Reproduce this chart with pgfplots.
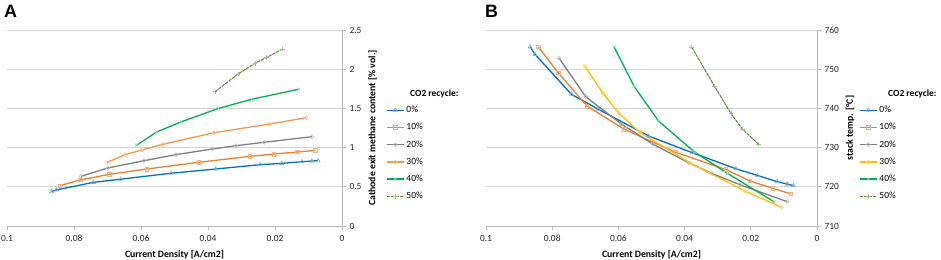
\documentclass[border=0pt]{standalone}
\usepackage{fontspec}
\setmainfont{Carlito}
\newfontfamily\arialfont{Liberation Sans}
\usepackage{pgfplots}
\pgfplotsset{compat=1.18}
\definecolor{cblue}{HTML}{0070C0}
\definecolor{corange}{HTML}{ED7D31}
\definecolor{cgray}{HTML}{7F7F7F}
\definecolor{clorange}{HTML}{F79646}
\definecolor{cyellow}{HTML}{FFC000}
\definecolor{cgreen}{HTML}{00B050}
\definecolor{cdgreen}{HTML}{4F8A2E}
\pgfplotsset{
  panel/.style={
    scale only axis, height=196bp,
    x dir=reverse, xmin=0, xmax=0.1,
    xtick={0,0.02,0.04,0.06,0.08,0.1},
    axis x line*=bottom, axis y line*=right,
    ymajorgrids, grid style={draw=black!16, line width=0.8pt},
    axis line style={draw=black!28, line width=0.8pt},
    tick style={draw=black!28, line width=0.8pt},
    tick align=outside, major tick length=4bp,
    ticklabel style={font=\fontsize{9.5}{11}\selectfont, text=black!85},
    xticklabel style={yshift=-2bp},
    /pgf/number format/assume math mode=true,
    xticklabel style={/pgf/number format/fixed},
    yticklabel style={/pgf/number format/fixed},
    label style={font=\bfseries\fontsize{9.8}{11}\selectfont},
    xlabel={Current Density [A/cm2]},
    xlabel style={yshift=-1.5bp},
    legend style={draw=none, fill=none, font=\fontsize{9.5}{11}\selectfont,
      row sep=5.3bp, legend cell align=left, at={(1,1)}, anchor=north west},
    legend cell align=left,
    every axis plot/.append style={line width=1.3pt},
  },
  s0/.style={cblue, mark=triangle, mark size=2.3bp, mark options={draw=cblue!55, fill=white, line width=0.6pt}},
  s10/.style={corange, mark=square, mark size=1.8bp, mark options={draw=corange!60, fill=white, line width=0.6pt}},
  s20/.style={cgray, mark=o, mark size=1.9bp, mark options={draw=cgray!55, fill=white, line width=0.6pt}},
  s30a/.style={clorange, mark=o, mark size=1.9bp, mark options={draw=clorange!60, fill=white, line width=0.6pt}},
  s30b/.style={cyellow, mark=o, mark size=1.9bp, mark options={draw=cyellow!60, fill=white, line width=0.6pt}},
  s40/.style={cgreen, mark=x, mark size=2.2bp, mark options={draw=cgreen!50, line width=0.6pt}},
  s50/.style={cdgreen, line width=1pt, dash pattern=on 3.5pt off 0.8pt, mark=+, mark size=2.2bp, mark options={draw=cdgreen!55, solid, line width=0.6pt}},
}
\begin{document}
\begin{tikzpicture}
\path[use as bounding box] (0,0) rectangle (941bp,-260bp);
\node[anchor=base west, inner sep=0] at (4bp,-17bp) {\arialfont\bfseries\fontsize{18}{18}\selectfont A};
\node[anchor=base west, inner sep=0] at (485bp,-17bp) {\arialfont\bfseries\fontsize{18}{18}\selectfont B};
\node[anchor=west, inner sep=0] at (410bp,-94bp) {\bfseries\fontsize{9.5}{11}\selectfont CO2 recycle:};
\node[anchor=west, inner sep=0] at (888bp,-94bp) {\bfseries\fontsize{9.5}{11}\selectfont CO2 recycle:};
\begin{axis}[panel, width=335bp, at={(7bp,-226bp)}, anchor=south west,
  ymin=0, ymax=2.5, ytick={0,0.5,1,1.5,2,2.5},
  ylabel={Cathode exit methane content [\% vol.]},
  legend style={xshift=41bp, yshift=-72bp}]
\addplot[s0] coordinates {(0.0867,0.44)(0.0852,0.46)(0.0742,0.557)(0.0661,0.597)(0.0510,0.673)(0.0377,0.727)(0.0245,0.782)(0.0180,0.799)(0.0120,0.820)(0.0090,0.829)(0.0071,0.833)};
\addlegendentry{0\%}
\addplot[s10] coordinates {(0.0842,0.514)(0.0782,0.587)(0.0695,0.659)(0.0583,0.727)(0.0427,0.812)(0.0275,0.889)(0.0203,0.918)(0.0133,0.944)(0.0079,0.966)};
\addlegendentry{10\%}
\addplot[s20] coordinates {(0.0779,0.634)(0.0699,0.74)(0.0591,0.833)(0.0496,0.91)(0.0387,0.982)(0.0317,1.024)(0.0232,1.068)(0.0090,1.139)};
\addlegendentry{20\%}
\addplot[s30a] coordinates {(0.0702,0.81)(0.0647,0.91)(0.0598,0.969)(0.0535,1.042)(0.0382,1.19)(0.0217,1.30)(0.0107,1.38)};
\addlegendentry{30\%}
\addplot[s40] coordinates {(0.0613,1.03)(0.0553,1.20)(0.0479,1.33)(0.0369,1.50)(0.0270,1.616)(0.0130,1.744)};
\addlegendentry{40\%}
\addplot[s50] coordinates {(0.0379,1.713)(0.0310,1.94)(0.0260,2.075)(0.0225,2.15)(0.0177,2.26)};
\addlegendentry{50\%}
\end{axis}
\begin{axis}[panel, width=331bp, at={(486bp,-226bp)}, anchor=south west,
  ymin=710, ymax=760, ytick={710,720,730,740,750,760},
  ylabel={stack temp. [\textdegree C]},
  legend style={xshift=39bp, yshift=-72bp}]
\addplot[s0] coordinates {(0.0867,755.7)(0.0852,753.8)(0.0742,743.6)(0.0661,739.8)(0.0510,733.0)(0.0377,728.7)(0.0245,724.6)(0.0180,722.9)(0.0120,721.3)(0.0090,720.7)(0.0071,720.3)};
\addlegendentry{0\%}
\addplot[s10] coordinates {(0.0842,755.7)(0.0782,749.1)(0.0695,740.6)(0.0583,734.7)(0.0427,728.8)(0.0275,724.4)(0.0203,721.5)(0.0133,719.6)(0.0079,718.2)};
\addlegendentry{10\%}
\addplot[s20] coordinates {(0.0779,752.8)(0.0699,743.0)(0.0591,736.0)(0.0496,730.9)(0.0387,726.1)(0.0317,723.4)(0.0232,720.5)(0.0090,716.2)};
\addlegendentry{20\%}
\addplot[s30b] coordinates {(0.0702,750.8)(0.0647,743.9)(0.0598,738.7)(0.0535,733.9)(0.0382,726.0)(0.0217,718.9)(0.0107,714.8)};
\addlegendentry{30\%}
\addplot[s40] coordinates {(0.0613,755.7)(0.0553,745.7)(0.0479,736.8)(0.0369,728.8)(0.0270,723.4)(0.0130,716.2)};
\addlegendentry{40\%}
\addplot[s50] coordinates {(0.0379,755.7)(0.0310,745.7)(0.0260,738.7)(0.0225,734.7)(0.0177,730.9)};
\addlegendentry{50\%}
\end{axis}
\end{tikzpicture}
\end{document}
